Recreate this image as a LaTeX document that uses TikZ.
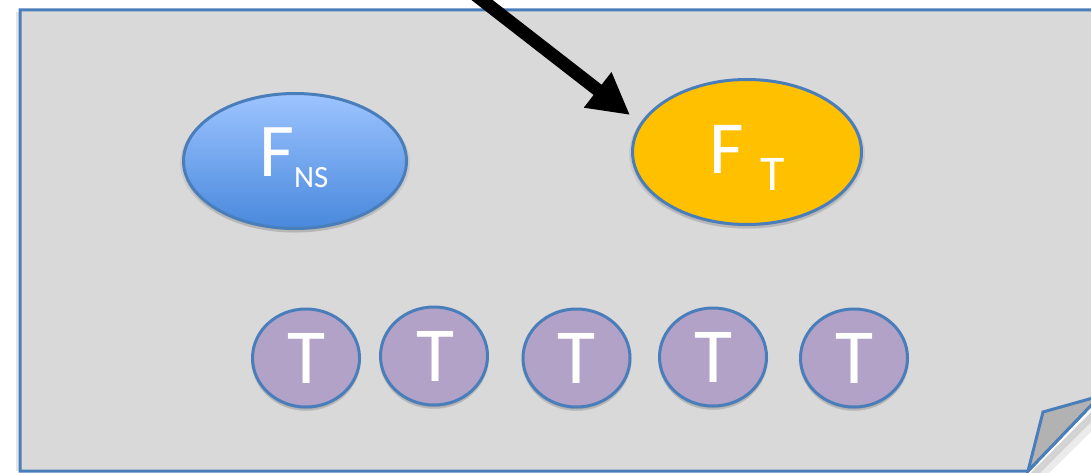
\documentclass[tikz,border=0pt]{standalone}
\usepackage{fontspec}
\setmainfont{Carlito}
\usetikzlibrary{shapes.geometric,shadows,arrows.meta}
\definecolor{pagegray}{RGB}{217,217,217}
\definecolor{foldgray}{RGB}{178,178,178}
\definecolor{edgeblue}{RGB}{74,126,187}
\definecolor{gold}{RGB}{255,192,0}
\definecolor{lilac}{RGB}{178,162,199}
\definecolor{skytop}{RGB}{157,196,255}
\definecolor{skybot}{RGB}{72,136,220}
\tikzset{
  softshadow/.style={
    drop shadow={opacity=0.07,shadow xshift=0pt,shadow yshift=-2pt,shadow scale=1.03,fill=black},
    drop shadow={opacity=0.09,shadow xshift=0pt,shadow yshift=-4pt,shadow scale=1.0,fill=black},
    drop shadow={opacity=0.09,shadow xshift=0pt,shadow yshift=-3pt,shadow scale=0.98,fill=black}},
  oval/.style={ellipse,draw=edgeblue,line width=3pt,inner sep=0pt,softshadow},
  tcirc/.style={oval,fill=lilac,minimum width=107pt,minimum height=98pt},
  wtext/.style={text=white,inner sep=0pt,outer sep=0pt},
  bigarrow/.style={line width=13pt,-{Triangle[length=41pt,width=42pt]}}
}
\begin{document}
\begin{tikzpicture}[x=1pt,y=-1pt]
\useasboundingbox (0,0) rectangle (1091,473);
\clip (0,0) rectangle (1091,473);
% page with folded corner
\fill[black,opacity=0.10] (16,12) rectangle (20,471);
\fill[black,opacity=0.08] (1030,474) -- (1104,399) -- (1114,409) -- (1040,482) -- cycle;
\fill[black,opacity=0.10] (1030,473) -- (1104,399) -- (1109,404) -- (1035,478) -- cycle;
\draw[fill=pagegray,draw=edgeblue,line width=3pt]
  (20,10) -- (1120,10) -- (1120,380) -- (1100,396) -- (1028,471) -- (20,471) -- cycle;
\draw[fill=foldgray,draw=edgeblue,line width=3pt,line join=miter]
  (1028,471) -- (1043,412) -- (1100,396) -- cycle;
% ellipses
\node[oval,top color=skytop,bottom color=skybot,minimum width=223pt,minimum height=135pt] (fns) at (295,161) {};
\node[oval,fill=gold,minimum width=229pt,minimum height=145pt] (ft) at (747,152) {};
% labels
\node[wtext,anchor=base west,font=\fontsize{76}{76}\selectfont] (fnsF) at (259,176) {F};
\node[wtext,anchor=base west,font=\fontsize{31}{31}\selectfont] (fnsS) at (294,187) {NS};
\node[wtext,anchor=base west,font=\fontsize{75}{75}\selectfont] (ftF) at (709,174) {F};
\node[wtext,anchor=base west,font=\fontsize{50}{50}\selectfont] (ftS) at (760,190) {T};
% T circles
\node[tcirc] (t1) at (306,358) {};
\node[tcirc] (t2) at (434,356) {};
\node[tcirc] (t3) at (576.5,358) {};
\node[tcirc] (t4) at (713,357) {};
\node[tcirc] (t5) at (854,358) {};
\foreach \n/\x/\b in {1/306/383,2/435/381,3/576.5/383,4/713/382,5/854/383}{
  \node[wtext,anchor=base,font=\fontsize{78}{78}\selectfont] (tl\n) at (\x,\b) {T};
}
% arrow
\coordinate (astart) at (464,-14);
\coordinate (atip) at (630,115);
\draw[bigarrow] (astart) -- (atip);
\end{tikzpicture}
\end{document}
